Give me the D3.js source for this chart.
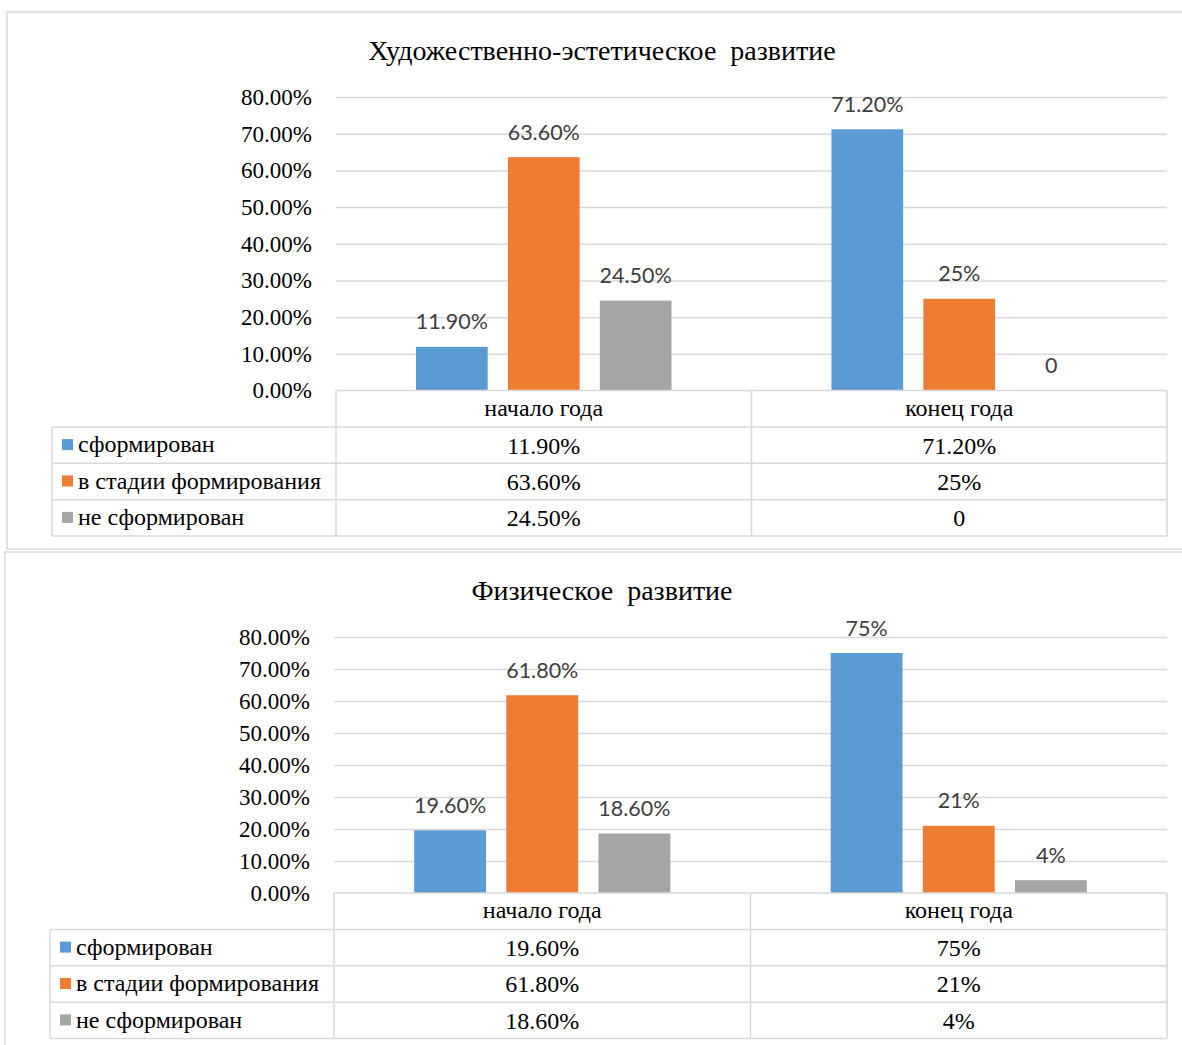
<!DOCTYPE html>
<html>
<head>
<meta charset="utf-8">
<script src="https://cdn.jsdelivr.net/npm/d3@7"></script>
<style>
body { margin:0; background:#fff; }
svg text { white-space: pre; }
</style>
</head>
<body>
<svg id="page"></svg>
<script>
var categories = ["начало года", "конец года"];
var seriesNames = ["сформирован", "в стадии формирования", "не сформирован"];
var seriesColors = ["#5b9bd5", "#ed7d31", "#a5a5a5"];
var yTicks = [0, 0.1, 0.2, 0.3, 0.4, 0.5, 0.6, 0.7, 0.8];

// Художественно-эстетическое развитие: [series][category]
var artValues = [[0.119, 0.712], [0.636, 0.25], [0.245, 0]];
var artLabels = [["11.90%", "71.20%"], ["63.60%", "25%"], ["24.50%", "0"]];

// Физическое развитие
var physValues = [[0.196, 0.75], [0.618, 0.21], [0.186, 0.04]];
var physLabels = [["19.60%", "75%"], ["61.80%", "21%"], ["18.60%", "4%"]];

var serif = "Liberation Serif, Times New Roman, serif";

var svg = d3.select("#page").attr("width", 1182).attr("height", 1045);

var drawChart = function(opt)
{
    var g = svg.append("g");

    // outer frame
    g.append("rect")
        .attr("x", opt.frame.x).attr("y", opt.frame.y)
        .attr("width", opt.frame.w).attr("height", opt.frame.h)
        .attr("fill", "#fff").attr("stroke", "#d9d9d9").attr("stroke-width", 1.5);

    g.append("text")
        .attr("x", 602).attr("y", opt.titleY)
        .attr("dy", "0.35em")
        .attr("text-anchor", "middle")
        .attr("font-family", serif)
        .attr("font-size", 28).attr("fill", "#000")
        .text(opt.title);

    var xScale = d3.scaleBand()
        .domain(categories)
        .range([opt.left, opt.right]);

    var inner = d3.scaleBand()
        .domain(d3.range(seriesNames.length))
        .range([0, xScale.bandwidth()])
        .paddingInner(0.22)
        .paddingOuter(0.87);

    var yScale = d3.scaleLinear()
        .domain([0, 0.8])
        .range([opt.bottom, opt.top]);

    // gridlines
    var grid = g.append("g")
        .attr("transform", "translate(" + opt.left + ",0)")
        .call(d3.axisLeft(yScale).tickValues(yTicks.slice(1))
            .tickSize(-(opt.right - opt.left)).tickFormat(""));
    grid.select(".domain").remove();
    grid.selectAll("line").attr("stroke", "#d9d9d9").attr("stroke-width", 1.5);

    // y axis labels
    var yAxis = g.append("g")
        .attr("transform", "translate(" + opt.tickX + ",0)")
        .call(d3.axisLeft(yScale).tickValues(yTicks)
            .tickSize(0).tickPadding(0).tickFormat(d3.format(".2%")));
    yAxis.select(".domain").remove();
    yAxis.selectAll("text")
        .attr("font-family", serif)
        .attr("font-size", 23).attr("fill", "#000");

    // bars
    var flat = [];
    opt.values.forEach(function(row, s) {
        row.forEach(function(v, c) {
            flat.push({s: s, c: c, v: v, label: opt.labels[s][c]});
        });
    });

    g.selectAll("rect.bar")
        .data(flat)
        .enter()
        .append("rect")
        .classed("bar", true)
        .attr("x", function(d) { return xScale(categories[d.c]) + inner(d.s); })
        .attr("y", function(d) { return yScale(d.v); })
        .attr("width", inner.bandwidth())
        .attr("height", function(d) { return opt.bottom - yScale(d.v); })
        .attr("fill", function(d) { return seriesColors[d.s]; });

    g.selectAll("text.lbl")
        .data(flat)
        .enter()
        .append("text")
        .classed("lbl", true)
        .attr("x", function(d) { return xScale(categories[d.c]) + inner(d.s) + inner.bandwidth() / 2; })
        .attr("y", function(d) { return yScale(d.v) - 25; })
        .attr("dy", "0.35em")
        .attr("text-anchor", "middle")
        .attr("font-family", "Lato, Carlito, Calibri, sans-serif")
        .attr("font-size", 21.5).attr("fill", "#404040")
        .text(function(d) { return d.label; });

    // data table
    var rowH = opt.rowH;
    var t = g.append("g");
    var tableBottom = opt.bottom + rowH * 4;

    t.append("line").attr("x1", opt.left).attr("x2", opt.right)
        .attr("y1", opt.bottom).attr("y2", opt.bottom);
    [1, 2, 3, 4].forEach(function(i) {
        t.append("line").attr("x1", opt.tableLeft).attr("x2", opt.right)
            .attr("y1", opt.bottom + rowH * i).attr("y2", opt.bottom + rowH * i);
    });
    t.append("line").attr("x1", opt.tableLeft).attr("x2", opt.tableLeft)
        .attr("y1", opt.bottom + rowH).attr("y2", tableBottom);
    [opt.left, xScale(categories[1]), opt.right].forEach(function(x) {
        t.append("line").attr("x1", x).attr("x2", x)
            .attr("y1", opt.bottom).attr("y2", tableBottom);
    });
    t.selectAll("line").attr("stroke", "#d9d9d9").attr("stroke-width", 1.5);

    categories.forEach(function(c) {
        t.append("text")
            .attr("x", xScale(c) + xScale.bandwidth() / 2)
            .attr("y", opt.bottom + rowH / 2)
            .attr("dy", "0.3em")
            .attr("text-anchor", "middle")
            .attr("font-family", serif).attr("font-size", 24)
            .text(c);
    });

    seriesNames.forEach(function(name, s) {
        var cy = opt.bottom + rowH * (s + 1) + rowH / 2;
        t.append("rect")
            .attr("x", opt.tableLeft + 10).attr("y", cy - 6)
            .attr("width", 11).attr("height", 11)
            .attr("fill", seriesColors[s]);
        t.append("text")
            .attr("x", opt.tableLeft + 26).attr("y", cy)
            .attr("dy", "0.3em")
            .attr("font-family", serif).attr("font-size", 24)
            .text(name);
        categories.forEach(function(c, ci) {
            t.append("text")
                .attr("x", xScale(c) + xScale.bandwidth() / 2)
                .attr("y", cy)
                .attr("dy", "0.35em")
                .attr("text-anchor", "middle")
                .attr("font-family", serif).attr("font-size", 24)
                .text(opt.labels[s][ci]);
        });
    });
}

drawChart({
    title: "Художественно-эстетическое  развитие",
    titleY: 50,
    frame: {x: 7, y: 12, w: 1200, h: 537},
    left: 336, right: 1167, top: 97, bottom: 390.5,
    tickX: 312, tableLeft: 52, rowH: 36.4,
    values: artValues, labels: artLabels
});

drawChart({
    title: "Физическое  развитие",
    titleY: 590,
    frame: {x: 5, y: 552, w: 1200, h: 520},
    left: 334, right: 1167, top: 637, bottom: 893,
    tickX: 310, tableLeft: 50, rowH: 36.4,
    values: physValues, labels: physLabels
});
</script>
</body>
</html>
